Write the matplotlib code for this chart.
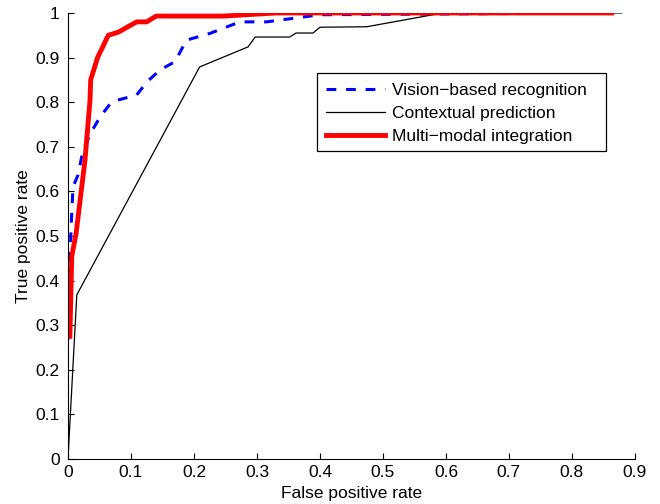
import matplotlib
matplotlib.use('Agg')
import matplotlib.pyplot as plt
from matplotlib.patches import Rectangle

plt.rcParams['font.family'] = ['Liberation Sans', 'DejaVu Sans']

# ROC curves
vision_fpr = [0.0, 0.002, 0.005, 0.008, 0.016, 0.024, 0.037, 0.051, 0.069, 0.080,
              0.109, 0.125, 0.146, 0.170, 0.188, 0.225, 0.273, 0.315, 0.358, 0.40, 0.863]
vision_tpr = [0.267, 0.395, 0.521, 0.61, 0.637, 0.693, 0.733, 0.767, 0.80, 0.805,
              0.816, 0.845, 0.872, 0.891, 0.939, 0.954, 0.980, 0.980, 0.988, 0.996, 1.0]

context_fpr = [0.0, 0.014, 0.209, 0.286, 0.297, 0.352, 0.362, 0.389, 0.40, 0.474, 0.595, 0.879]
context_tpr = [0.0, 0.368, 0.879, 0.924, 0.946, 0.946, 0.955, 0.955, 0.968, 0.969, 1.0, 1.0]

multi_fpr = [0.003, 0.006, 0.013, 0.027, 0.035, 0.036, 0.047, 0.064, 0.080, 0.109,
             0.125, 0.140, 0.247, 0.331, 0.863]
multi_tpr = [0.275, 0.454, 0.507, 0.67, 0.805, 0.85, 0.90, 0.95, 0.957, 0.98,
             0.98, 0.993, 0.993, 1.0, 1.0]

labels = ['Vision\u2212based recognition', 'Contextual prediction', 'Multi\u2212modal integration']

fs = 12.5

fig = plt.figure(figsize=(6.6, 5.04), dpi=100)
ax = fig.add_axes([0.103, 0.0893, 0.859, 0.885])

ax.plot(vision_fpr, vision_tpr, color='blue', lw=2.2, dashes=(3.2, 3.2), label=labels[0])
ax.plot(context_fpr, context_tpr, color='black', lw=0.9, label=labels[1])
ax.plot(multi_fpr, multi_tpr, color='red', lw=3.5, label=labels[2])

ax.set_xlim(0, 0.9)
ax.set_ylim(0, 1)
ax.set_xticks([i / 10 for i in range(10)])
ax.set_yticks([i / 10 for i in range(11)])
ax.set_xticklabels(['0'] + ['%.1f' % (i / 10) for i in range(1, 10)])
ax.set_yticklabels(['0'] + ['%.1f' % (i / 10) for i in range(1, 10)] + ['1'])
ax.tick_params(direction='in', length=4, width=0.8, labelsize=fs)
ax.tick_params(axis='x', pad=4)
ax.tick_params(axis='y', pad=6)
ax.spines['top'].set_visible(False)
ax.spines['right'].set_visible(False)

ax.set_xlabel('False positive rate', fontsize=fs, labelpad=5)
ax.set_ylabel('True positive rate', fontsize=fs, labelpad=3)

# legend box is wider than the entries (MATLAB style), so draw the frame ourselves
leg = ax.legend(loc='upper left', bbox_to_anchor=(0.439, 0.865), fontsize=fs,
                handlelength=3.35, frameon=False,
                borderpad=0.55, labelspacing=0.45, handletextpad=0.45, borderaxespad=0)
ax.add_patch(Rectangle((0.439, 0.690), 0.510, 0.175, transform=ax.transAxes,
                       facecolor='white', edgecolor='black', lw=0.9, zorder=4))
leg.set_zorder(5)

fig.savefig('out.png', dpi=100)
